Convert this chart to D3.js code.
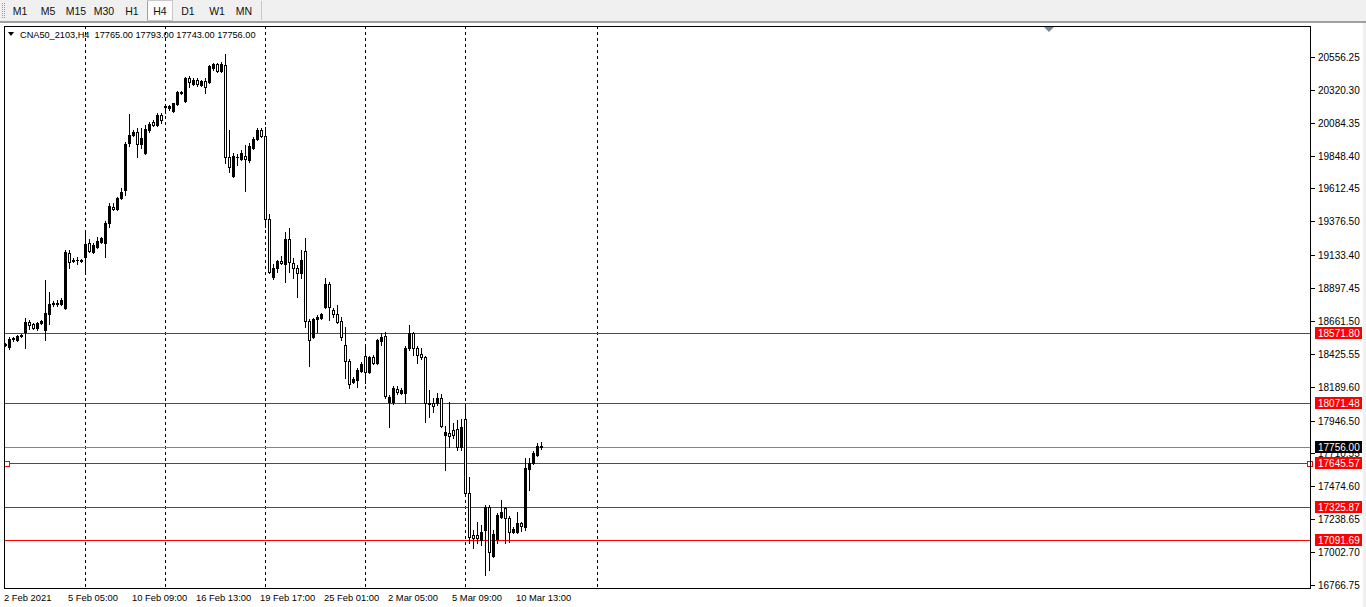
<!DOCTYPE html>
<html>
<head>
<meta charset="utf-8">
<script src="https://cdn.jsdelivr.net/npm/d3@7"></script>
<style>
  html, body { margin: 0; padding: 0; background: #ffffff; overflow: hidden; }
  svg { display: block; }
  text { font-family: "Liberation Sans", "DejaVu Sans", sans-serif; }
  .pre { white-space: pre; }
</style>
</head>
<body>
<svg id="chart" width="1366" height="607"></svg>
<script>
// ---------------- DATA ----------------
const symbolTitle = "CNA50_2103,H4  17765.00 17793.00 17743.00 17756.00";
const timeframes = ["M1", "M5", "M15", "M30", "H1", "H4", "D1", "W1", "MN"];
const activeTimeframe = "H4";

const opens = [18489,18475,18532,18525,18554,18583,18654,18640,18611,18647,
  18597,18712,18784,18791,18784,18755,19150,19099,19099,19092,
  19121,19221,19157,19192,19228,19221,19365,19480,19465,19544,
  19602,19939,19996,20018,19932,19867,20032,20090,20068,20140,
  20197,20190,20169,20219,20305,20240,20405,20362,20391,20355,
  20384,20377,20477,20506,20456,20499,19839,19702,19839,19824,
  19846,19817,19903,19968,20032,19989,19394,18977,19042,19092,
  19071,19250,19078,19042,19006,19164,18662,18547,18676,18683,
  18762,18927,18740,18712,18662,18489,18374,18224,18238,18303,
  18410,18296,18403,18360,18518,18554,18080,18080,18173,18145,
  18145,18468,18575,18468,18425,18403,18073,18073,18073,18109,
  17843,17858,17879,17886,17757,17958,17427,17126,17126,17090,
  17162,17327,16975,17097,17255,17319,17248,17147,17147,17212,
  17183,17599,17642,17700,17765];
const highs = [18504,18547,18547,18561,18568,18683,18669,18647,18654,18669,
  18956,18870,18805,18812,18827,19171,19171,19114,19121,19106,
  19307,19250,19221,19264,19264,19379,19508,19508,19551,19616,
  19946,20147,20032,20047,20047,20068,20090,20104,20154,20154,
  20212,20212,20226,20312,20312,20413,20420,20405,20405,20391,
  20405,20499,20513,20513,20520,20578,20032,19867,19860,19889,
  19925,19939,19982,20047,20047,20054,19429,19071,19099,19128,
  19300,19329,19114,19063,19171,19257,18676,18683,18705,18719,
  18970,18941,18755,18776,18690,18618,18389,18260,18324,18367,
  18489,18410,18418,18532,18575,18583,18130,18195,18195,18181,
  18482,18633,18583,18482,18468,18410,18166,18109,18145,18138,
  17908,18080,17930,17951,17958,18066,17542,17162,17219,17197,
  17341,17341,17162,17283,17377,17327,17262,17183,17291,17219,
  17678,17678,17728,17786,17793];
const lows = [18482,18461,18518,18518,18547,18468,18604,18604,18597,18640,
  18525,18640,18769,18769,18776,18748,19042,19085,19071,19085,
  19006,19157,19150,19185,19221,19121,19336,19458,19458,19537,
  19566,19918,19989,19839,19903,19860,20018,20061,20061,20083,
  20154,20176,20162,20212,20291,20233,20341,20355,20348,20348,
  20298,20370,20463,20448,20449,19795,19731,19695,19781,19817,
  19594,19803,19896,19961,19982,19336,19006,18963,19013,19071,
  18941,19013,18970,18834,18970,18618,18339,18540,18583,18676,
  18755,18669,18690,18647,18525,18252,18181,18217,18188,18296,
  18217,18289,18353,18353,18489,18109,17901,18066,18138,18138,
  18073,18453,18418,18360,18389,17937,17972,18008,18059,17901,
  17592,17757,17822,17736,17736,17413,17068,17032,17068,17054,
  16838,16874,16968,17068,17248,17068,17075,17140,17140,17154,
  17162,17449,17635,17693,17743];
const closes = [18496,18532,18540,18554,18561,18654,18633,18611,18647,18661,
  18719,18784,18791,18784,18812,19157,19085,19092,19100,19099,
  19214,19164,19207,19236,19257,19365,19487,19465,19544,19587,
  19932,19996,20018,19932,19975,20040,20075,20068,20140,20104,
  20205,20205,20226,20305,20298,20405,20377,20391,20362,20384,
  20341,20492,20506,20456,20506,19839,19767,19846,19842,19867,
  19824,19918,19968,20032,19989,19394,19013,19042,19092,19078,
  19250,19085,19042,19006,19099,18662,18525,18676,18690,18712,
  18927,18762,18712,18654,18547,18374,18209,18245,18310,18353,
  18296,18403,18360,18525,18547,18123,18116,18181,18152,18166,
  18468,18575,18468,18418,18403,18073,18066,18051,18109,17908,
  17865,17836,17843,17757,17901,17427,17111,17104,17104,17147,
  17327,17004,17133,17269,17291,17248,17147,17169,17212,17190,
  17606,17642,17714,17764,17756];

const priceTicks = [20556.25,20320.30,20084.35,19848.40,19612.45,19376.50,19133.40,
  18897.45,18661.50,18425.55,18189.60,17946.50,17710.55,17474.60,17238.65,17002.70,16766.75];
const timeLabels = ["2 Feb 2021","5 Feb 05:00","10 Feb 09:00","16 Feb 13:00","19 Feb 17:00",
  "25 Feb 01:00","2 Mar 05:00","5 Mar 09:00","10 Mar 13:00"];
const timeLabelBars = [0,16,32,48,64,80,96,112,128];
const separatorBars = [20,40,65,90,115,148];
const levelLines = [18571.80, 18071.48, 17645.57, 17325.87, 17091.69];
const selectedLevel = 17645.57;
const bidPrice = 17756.00;

// ---------------- LAYOUT ----------------
const svg = d3.select("#chart");
const plot = { left: 4, right: 1310, top: 26, bottom: 588 };

const x = d3.scaleLinear().domain([-0.25, 326.25]).range([plot.left, plot.right]);
const y = d3.scaleLinear().domain([16745.2, 20778.7]).range([plot.bottom, plot.top]);

svg.append("rect").attr("x", 0).attr("y", 0).attr("width", 1366).attr("height", 607).attr("fill", "#ffffff");

// ---------------- TOOLBAR ----------------
const tb = svg.append("g");
tb.append("rect").attr("x", 0).attr("y", 0).attr("width", 1366).attr("height", 21).attr("fill", "#f0f0f0");
tb.append("rect").attr("x", 0).attr("y", 21).attr("width", 1366).attr("height", 2).attr("fill", "#a0a0a0");
for (let gy = 3; gy < 19; gy += 2) {
  tb.append("rect").attr("x", 2).attr("y", gy).attr("width", 1).attr("height", 1).attr("fill", "#9a9a9a");
  tb.append("rect").attr("x", 4).attr("y", gy).attr("width", 1).attr("height", 1).attr("fill", "#9a9a9a");
}
const tfX = [20, 48, 76, 104, 132, 160, 188, 217, 244];
timeframes.forEach((t, k) => {
  if (t === activeTimeframe) {
    tb.append("rect").attr("x", 147.5).attr("y", 0.5).attr("width", 25).attr("height", 20)
      .attr("fill", "#fbfbfb").attr("stroke", "#c8c8c8");
  }
  tb.append("text").attr("x", tfX[k]).attr("y", 14.5).attr("text-anchor", "middle")
    .attr("font-size", 10.5).attr("fill", "#111").text(t);
});
tb.append("rect").attr("x", 147).attr("y", 1).attr("width", 1).attr("height", 19).attr("fill", "#a0a0a0");
tb.append("rect").attr("x", 261).attr("y", 1).attr("width", 1).attr("height", 19).attr("fill", "#c8c8c8");

// ---------------- CHART ----------------
const g = svg.append("g").attr("shape-rendering", "crispEdges");

separatorBars.forEach(b => {
  const sx = Math.round(x(b)) + 0.5;
  g.append("line").attr("x1", sx).attr("x2", sx).attr("y1", plot.top).attr("y2", plot.bottom)
    .attr("stroke", "#000").attr("stroke-width", 1).attr("stroke-dasharray", "3,3");
});

levelLines.forEach(v => {
  const ly = Math.round(y(v)) + 0.5;
  g.append("line").attr("x1", plot.left).attr("x2", plot.right).attr("y1", ly).attr("y2", ly)
    .attr("stroke", "#ff0000").attr("stroke-width", 1);
});
{
  const by = Math.round(y(bidPrice)) + 0.5;
  g.append("line").attr("x1", plot.left).attr("x2", plot.right).attr("y1", by).attr("y2", by)
    .attr("stroke", "#778899").attr("stroke-width", 1);
}
{
  const sy = Math.round(y(selectedLevel));
  [7, plot.right].forEach(hx => {
    g.append("rect").attr("x", hx - 2.5).attr("y", sy - 2.5 + 0.5).attr("width", 5).attr("height", 5)
      .attr("fill", "#ffffff").attr("stroke", "#ff0000").attr("stroke-width", 1);
  });
}

// candles
const bars = d3.range(opens.length).map(i => ({ i, o: opens[i], h: highs[i], l: lows[i], c: closes[i] }));
const cg = g.append("g");
bars.forEach(d => {
  const cx = Math.round(x(d.i));
  const yh = Math.round(y(d.h)), yl = Math.round(y(d.l));
  const yo = Math.round(y(d.o)), yc = Math.round(y(d.c));
  cg.append("rect").attr("x", cx).attr("y", yh).attr("width", 1).attr("height", Math.max(1, yl - yh + 1)).attr("fill", "#000");
  const top = Math.min(yo, yc), bot = Math.max(yo, yc);
  const hgt = bot - top + 1;
  cg.append("rect").attr("x", cx - 1).attr("y", top).attr("width", 3).attr("height", hgt).attr("fill", "#000");
  if (d.c < d.o && hgt > 2) {
    cg.append("rect").attr("x", cx).attr("y", top + 1).attr("width", 1).attr("height", hgt - 2).attr("fill", "#fff");
  }
});

// frame
g.append("rect").attr("x", plot.left + 0.5).attr("y", plot.top + 0.5)
  .attr("width", plot.right - plot.left).attr("height", plot.bottom - plot.top)
  .attr("fill", "none").attr("stroke", "#000").attr("stroke-width", 1);

// chart-shift marker
svg.append("path").attr("d", "M1044,27 L1054,27 L1049,32 Z").attr("fill", "#778899");

// title
svg.append("path").attr("d", "M8,32 L14,32 L11,36 Z").attr("fill", "#000");
svg.append("text").attr("class", "pre").attr("xml:space", "preserve")
  .attr("x", 20).attr("y", 37.5).attr("font-size", 9.2).attr("fill", "#000").text(symbolTitle);

// ---------------- PRICE AXIS ----------------
const pa = svg.append("g");
priceTicks.forEach(v => {
  const ty = Math.round(y(v));
  pa.append("rect").attr("x", plot.right + 1).attr("y", ty).attr("width", 4).attr("height", 1).attr("fill", "#000");
  pa.append("text").attr("x", 1318).attr("y", ty + 4).attr("font-size", 10).attr("fill", "#000").text(v.toFixed(2));
});
levelLines.forEach(v => {
  const ty = Math.round(y(v));
  pa.append("rect").attr("x", 1315).attr("y", ty - 6).attr("width", 47).attr("height", 12).attr("fill", "#ff0000");
  pa.append("text").attr("x", 1318).attr("y", ty + 4).attr("font-size", 10).attr("fill", "#fff").text(v.toFixed(2));
});
{
  const ty = Math.round(y(bidPrice));
  pa.append("rect").attr("x", 1315).attr("y", ty - 6).attr("width", 47).attr("height", 12).attr("fill", "#000");
  pa.append("text").attr("x", 1318).attr("y", ty + 4).attr("font-size", 10).attr("fill", "#fff").text(bidPrice.toFixed(2));
}
svg.append("rect").attr("x", 1363).attr("y", 23).attr("width", 3).attr("height", 584).attr("fill", "#f0f0f0");

// ---------------- TIME AXIS ----------------
const ta = svg.append("g");
timeLabels.forEach((t, k) => {
  const lx = x(timeLabelBars[k]) - 1;
  ta.append("text").attr("x", lx).attr("y", 601).attr("font-size", 9.4).attr("fill", "#000").text(t);
});
</script>
</body>
</html>
